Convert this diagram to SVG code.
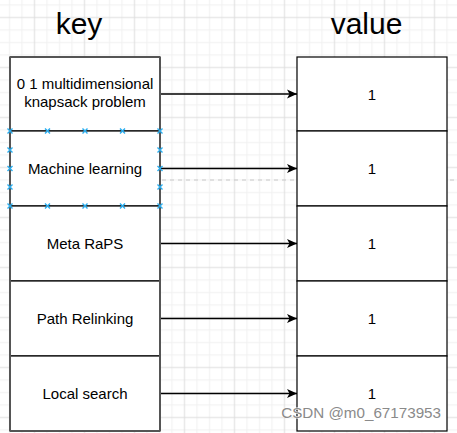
<svg xmlns="http://www.w3.org/2000/svg" width="457" height="433" viewBox="0 0 457 433">
<style>
.title{font-family:"Liberation Sans",Arial,sans-serif;font-size:30px;fill:#000;text-anchor:middle}
.lbl{font-family:"Liberation Sans",Arial,sans-serif;font-size:15px;fill:#000;text-anchor:middle}
.kbox{fill:#fff;stroke:#000;stroke-width:1.2}
.vbox{fill:#fff;stroke:#000;stroke-width:1.2}
.edge{fill:none;stroke:#000;stroke-width:1.3}
.sel{fill:none;stroke:#29aef0;stroke-width:1.4}
.wm{font-family:"Liberation Sans",Arial,sans-serif;font-size:15.2px;fill:#8a8a8a;text-anchor:end;stroke:#fff;stroke-width:1;paint-order:stroke}
</style>
<defs>
<pattern id="grid" patternUnits="userSpaceOnUse" x="3.25" y="-13.75" width="50" height="50">
<path d="M6.25 0V50M18.75 0V50M43.75 0V50M0 6.25H50M0 18.75H50M0 43.75H50" stroke="#f0f0f0" stroke-width="1" fill="none"/>
<path d="M31.25 0V50M0 31.25H50" stroke="#dddddd" stroke-width="1" fill="none"/>
</pattern>
<marker id="arr" viewBox="0 0 10 10" refX="10" refY="5" markerWidth="10" markerHeight="10" markerUnits="userSpaceOnUse" orient="auto">
<path d="M0 0.5L10 5L0 9.5L2.5 5Z" fill="#000"/>
</marker>
</defs>
<rect width="457" height="433" fill="#fff"/>
<rect width="457" height="433" fill="url(#grid)"/>
<text class="title" x="79" y="34">key</text>
<text class="title" x="366.5" y="34">value</text>
<g id="guide">
<line x1="162" y1="180" x2="457" y2="180" stroke="#c8c8c8" stroke-width="1" stroke-dasharray="4 4"/>
</g>
<g id="connectors">
<line class="edge" x1="160" y1="94" x2="297" y2="94" marker-end="url(#arr)"/>
<line class="edge" x1="160" y1="168.5" x2="297" y2="168.5" marker-end="url(#arr)"/>
<line class="edge" x1="160" y1="243.5" x2="297" y2="243.5" marker-end="url(#arr)"/>
<line class="edge" x1="160" y1="318.5" x2="297" y2="318.5" marker-end="url(#arr)"/>
<line class="edge" x1="160" y1="393.5" x2="297" y2="393.5" marker-end="url(#arr)"/>
</g>
<g id="key1"><rect class="kbox" x="10" y="57" width="150" height="74"/><text class="lbl" x="85" y="89">0 1 multidimensional</text><text class="lbl" x="85" y="106.5">knapsack problem</text></g>
<g id="key2"><rect class="kbox" x="10" y="131" width="150" height="75"/><text class="lbl" x="85" y="174">Machine learning</text></g>
<g id="key3"><rect class="kbox" x="10" y="206" width="150" height="75"/><text class="lbl" x="85" y="249">Meta RaPS</text></g>
<g id="key4"><rect class="kbox" x="10" y="281" width="150" height="75"/><text class="lbl" x="85" y="324">Path Relinking</text></g>
<g id="key5"><rect class="kbox" x="10" y="356" width="150" height="75"/><text class="lbl" x="85" y="399">Local search</text></g>
<path d="M10 57V431M160 57V431M10 57H160M10 431H160" fill="none" stroke="#555" stroke-width="2"/>
<g id="val1"><rect class="vbox" x="297" y="57" width="150" height="74"/><text class="lbl" x="372" y="99.5">1</text></g>
<g id="val2"><rect class="vbox" x="297" y="131" width="150" height="75"/><text class="lbl" x="372" y="174">1</text></g>
<g id="val3"><rect class="vbox" x="297" y="206" width="150" height="75"/><text class="lbl" x="372" y="249">1</text></g>
<g id="val4"><rect class="vbox" x="297" y="281" width="150" height="75"/><text class="lbl" x="372" y="324">1</text></g>
<g id="val5"><rect class="vbox" x="297" y="356" width="150" height="75"/><text class="lbl" x="372" y="399">1</text></g>
<g id="selection">
<path class="sel" d="M7.5 128.5l5 5m0-5l-5 5M45 128.5l5 5m0-5l-5 5M82.5 128.5l5 5m0-5l-5 5M120 128.5l5 5m0-5l-5 5M157.5 128.5l5 5m0-5l-5 5M7.5 203.5l5 5m0-5l-5 5M45 203.5l5 5m0-5l-5 5M82.5 203.5l5 5m0-5l-5 5M120 203.5l5 5m0-5l-5 5M157.5 203.5l5 5m0-5l-5 5M7.5 147.5l5 5m0-5l-5 5M7.5 166l5 5m0-5l-5 5M7.5 184.5l5 5m0-5l-5 5M157.5 147.5l5 5m0-5l-5 5M157.5 166l5 5m0-5l-5 5M157.5 184.5l5 5m0-5l-5 5"/>
</g>
<text class="wm" x="441" y="418">CSDN @m0_67173953</text>
</svg>
